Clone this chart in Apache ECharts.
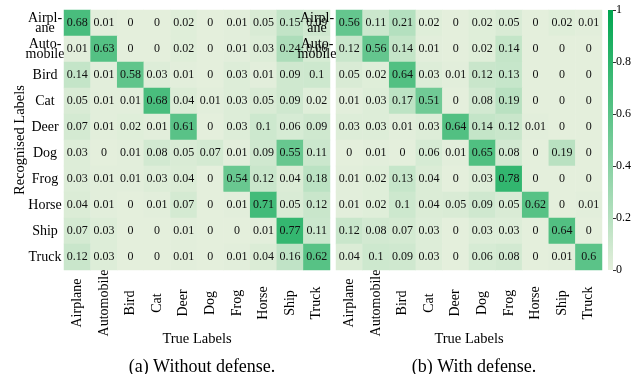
<!DOCTYPE html>
<html>
<head>
<meta charset="utf-8">
<script src="https://cdn.jsdelivr.net/npm/echarts@6/dist/echarts.min.js"></script>
<style>
html,body{margin:0;padding:0;background:#fff;}
#chart{width:641px;height:374px;}
</style>
</head>
<body>
<div id="chart"></div>
<script>
const categories = ['Airplane','Automobile','Bird','Cat','Deer','Dog','Frog','Horse','Ship','Truck'];
const rowLabels = ['Airpl-\nane','Auto-\nmobile','Bird','Cat','Deer','Dog','Frog','Horse','Ship','Truck'];
const colorbarTicks = [0, 0.2, 0.4, 0.6, 0.8, 1];
const titleA = '(a) Without defense.';
const titleB = '(b) With defense.';

// rows: recognised label, columns: true label
const withoutDefense = [
  [0.68,0.01,0,0,0.02,0,0.01,0.05,0.15,0.09],
  [0.01,0.63,0,0,0.02,0,0.01,0.03,0.24,0.06],
  [0.14,0.01,0.58,0.03,0.01,0,0.03,0.01,0.09,0.1],
  [0.05,0.01,0.01,0.68,0.04,0.01,0.03,0.05,0.09,0.02],
  [0.07,0.01,0.02,0.01,0.61,0,0.03,0.1,0.06,0.09],
  [0.03,0,0.01,0.08,0.05,0.07,0.01,0.09,0.55,0.11],
  [0.03,0.01,0.01,0.03,0.04,0,0.54,0.12,0.04,0.18],
  [0.04,0.01,0,0.01,0.07,0,0.01,0.71,0.05,0.12],
  [0.07,0.03,0,0,0.01,0,0,0.01,0.77,0.11],
  [0.12,0.03,0,0,0.01,0,0.01,0.04,0.16,0.62]
];
const withDefense = [
  [0.56,0.11,0.21,0.02,0,0.02,0.05,0,0.02,0.01],
  [0.12,0.56,0.14,0.01,0,0.02,0.14,0,0,0],
  [0.05,0.02,0.64,0.03,0.01,0.12,0.13,0,0,0],
  [0.01,0.03,0.17,0.51,0,0.08,0.19,0,0,0],
  [0.03,0.03,0.01,0.03,0.64,0.14,0.12,0.01,0,0],
  [0,0.01,0,0.06,0.01,0.65,0.08,0,0.19,0],
  [0.01,0.02,0.13,0.04,0,0.03,0.78,0,0,0],
  [0.01,0.02,0.1,0.04,0.05,0.09,0.05,0.62,0,0.01],
  [0.12,0.08,0.07,0.03,0,0.03,0.03,0,0.64,0],
  [0.04,0.1,0.09,0.03,0,0.06,0.08,0,0.01,0.6]
];

const FONT = '"Liberation Serif","Times New Roman",serif';
const LOW = '#e4efdc', HIGH = '#00a650';

function toData(m){
  const d = [];
  m.forEach((row, r) => row.forEach((v, c) => d.push([c, r, v])));
  return d;
}

function xAxisFor(gi){
  return {
    type:'category', gridIndex:gi, data:categories, position:'bottom',
    axisLine:{show:false}, axisTick:{show:false}, splitLine:{show:false},
    axisLabel:{rotate:90, align:'center', verticalAlign:'middle', margin:33,
      fontFamily:FONT, fontSize:14, color:'#000', interval:0},
    name:'True Labels', nameLocation:'middle', nameGap:62, nameMoveOverlap:false,
    nameTextStyle:{fontFamily:FONT, fontSize:14.5, color:'#000'}
  };
}

const option = {
  animation:false,
  backgroundColor:'#fff',
  title:[
    {text:titleA, left:197, top:353, textAlign:'center',
     textStyle:{fontFamily:FONT, fontSize:18, fontWeight:'normal', color:'#000'}},
    {text:titleB, left:469, top:353, textAlign:'center',
     textStyle:{fontFamily:FONT, fontSize:18, fontWeight:'normal', color:'#000'}}
  ],
  grid:[
    {left:64, top:10, width:266, height:260},
    {left:336, top:10, width:266, height:260},
    {left:608, top:10, width:5, height:260}
  ],
  xAxis:[
    xAxisFor(0),
    xAxisFor(1),
    {type:'category', gridIndex:2, data:[''], show:false}
  ],
  yAxis:[
    {type:'category', gridIndex:0, data:rowLabels, inverse:true,
     axisLine:{show:false}, axisTick:{show:false}, splitLine:{show:false},
     axisLabel:{align:'center', margin:19, fontFamily:FONT, fontSize:14, lineHeight:10, color:'#000', interval:0},
     name:'Recognised Labels', nameLocation:'middle', nameGap:36, nameMoveOverlap:false,
     nameTextStyle:{fontFamily:FONT, fontSize:14.5, color:'#000'}},
    {type:'category', gridIndex:1, data:rowLabels, inverse:true, z:10,
     axisLine:{show:false}, axisTick:{show:false}, splitLine:{show:false},
     axisLabel:{align:'center', margin:19, fontFamily:FONT, fontSize:14, lineHeight:10, color:'#000', interval:0,
       formatter:(v, i) => (i < 2 ? v : '')}},
    {type:'value', gridIndex:2, min:0, max:1, interval:0.2, position:'right',
     axisLine:{show:false}, splitLine:{show:false},
     axisTick:{show:true, length:3, lineStyle:{color:'#333'}},
     axisLabel:{margin:3, fontFamily:FONT, fontSize:12, color:'#000',
       formatter:v => (colorbarTicks.some(t => Math.abs(t - v) < 1e-9) ? String(Math.round(v*10)/10) : '')}}
  ],
  visualMap:{show:false, min:0, max:1, seriesIndex:[0,1], inRange:{color:[LOW, HIGH]}},
  series:[
    {type:'heatmap', xAxisIndex:0, yAxisIndex:0, data:toData(withoutDefense),
     label:{show:true, formatter:p => String(p.value[2]), fontFamily:FONT, fontSize:12, color:'#111'},
     emphasis:{disabled:true}},
    {type:'heatmap', xAxisIndex:1, yAxisIndex:1, data:toData(withDefense),
     label:{show:true, formatter:p => String(p.value[2]), fontFamily:FONT, fontSize:12, color:'#111'},
     emphasis:{disabled:true}},
    {type:'bar', xAxisIndex:2, yAxisIndex:2, data:[1], barWidth:'100%', silent:true,
     itemStyle:{color:{type:'linear', x:0, y:0, x2:0, y2:1,
       colorStops:[{offset:0, color:HIGH},{offset:1, color:LOW}]}}}
  ]
};

const chart = echarts.init(document.getElementById('chart'), null, {renderer:'canvas'});
chart.setOption(option);
</script>
</body>
</html>
